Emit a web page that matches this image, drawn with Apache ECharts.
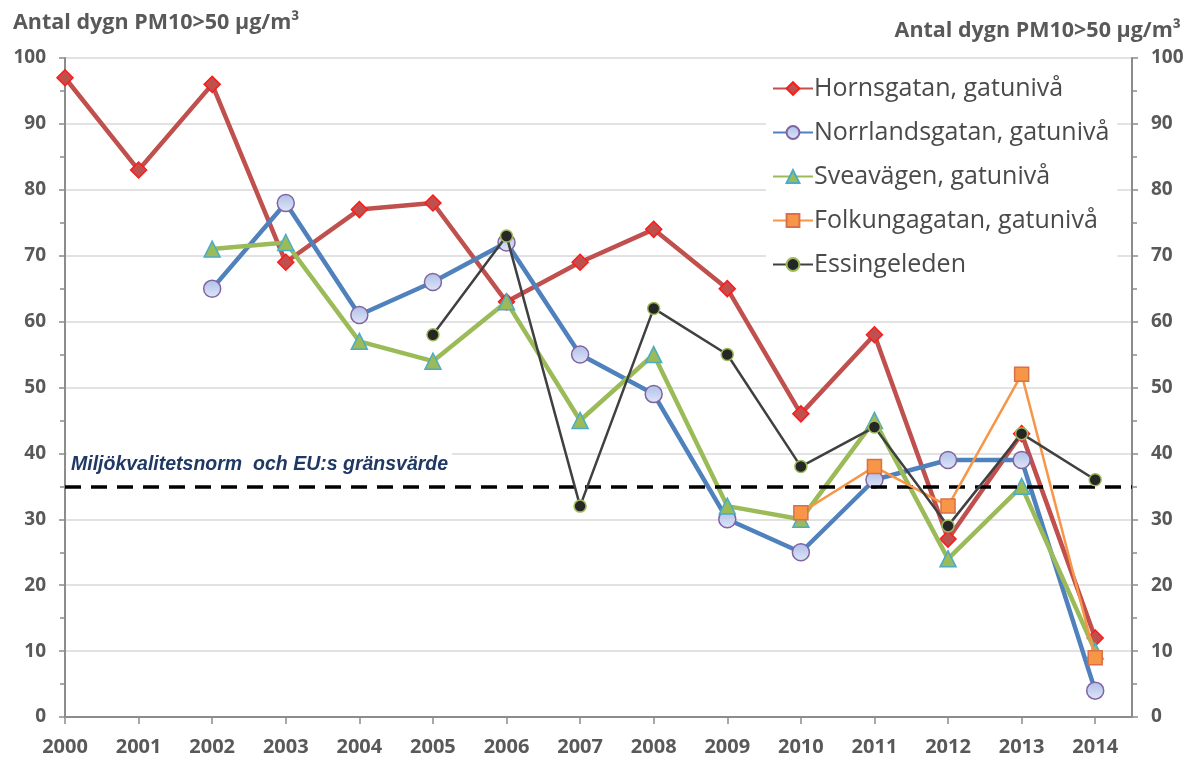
<!DOCTYPE html>
<html>
<head>
<meta charset="utf-8">
<title>Antal dygn PM10</title>
<script src="https://cdn.jsdelivr.net/npm/echarts@6/dist/echarts.min.js"></script>
<style>
  html, body { margin: 0; padding: 0; background: #fff; }
  #chart { width: 1198px; height: 765px; }
</style>
</head>
<body>
<div id="chart"></div>
<script>
var years = [2000, 2001, 2002, 2003, 2004, 2005, 2006, 2007, 2008, 2009, 2010, 2011, 2012, 2013, 2014];
var hornsgatan     = [97, 83, 96, 69, 77, 78, 63, 69, 74, 65, 46, 58, 27, 43, 12];
var norrlandsgatan = [null, null, 65, 78, 61, 66, 72, 55, 49, 30, 25, 36, 39, 39, 4];
var sveavagen      = [null, null, 71, 72, 57, 54, 63, 45, 55, 32, 30, 45, 24, 35, 10];
var folkungagatan  = [null, null, null, null, null, null, null, null, null, null, 31, 38, 32, 52, 9];
var essingeleden   = [null, null, null, null, null, 58, 73, 32, 62, 55, 38, 44, 29, 43, 36];
var limitValue = 35;
var limitLabel = 'Miljökvalitetsnorm  och EU:s gränsvärde';
var axisName = 'Antal dygn PM10>50 µg/m³';

function pairs(vals) {
  var out = [];
  for (var i = 0; i < years.length; i++) {
    if (vals[i] !== null) out.push([years[i], vals[i]]);
  }
  return out;
}

var chart = echarts.init(document.getElementById('chart'));
var gray = '#595959';
var font = '"Open Sans", "DejaVu Sans", sans-serif';

var yAxisBase = {
  type: 'value',
  min: 0,
  max: 100,
  interval: 10,
  axisLine: { show: true, lineStyle: { color: '#8c8c8c', width: 2 } },
  axisTick: { show: true, length: 6, lineStyle: { color: '#8c8c8c', width: 1.5 } },
  minorTick: { show: true, splitNumber: 2, length: 5, lineStyle: { color: '#8c8c8c', width: 1.5 } },
  axisLabel: { color: gray, fontSize: 19, fontWeight: 'bold', fontFamily: font, margin: 19 }
};

var option = {
  backgroundColor: '#fff',
  animation: false,
  title: [
    { text: axisName, left: 8, top: 7,
      textStyle: { color: gray, fontSize: 21.5, fontWeight: 'bold', fontFamily: font } },
    { text: axisName, right: 12, top: 15,
      textStyle: { color: gray, fontSize: 21.5, fontWeight: 'bold', fontFamily: font } }
  ],
  grid: { left: 65, right: 66, top: 58, bottom: 48, containLabel: false },
  legend: {
    orient: 'vertical',
    left: 766,
    top: 70,
    itemWidth: 40,
    itemHeight: 16,
    itemGap: 19,
    backgroundColor: '#fff',
    padding: [6, 8, 8, 6],
    textStyle: { color: '#4a4a4a', fontSize: 25, fontFamily: font, padding: [0, 0, 0, -4] }
  },
  xAxis: {
    type: 'value',
    min: 2000,
    max: 2014.5,
    interval: 1,
    splitLine: { show: false },
    axisLine: { show: true, lineStyle: { color: '#8c8c8c', width: 2 } },
    axisTick: { show: true, length: 7, customValues: years, lineStyle: { color: '#8c8c8c', width: 1.5 } },
    axisLabel: {
      customValues: years,
      color: gray, fontSize: 20, fontWeight: 'bold', fontFamily: font, margin: 20,
      formatter: function (v) { return String(v); }
    }
  },
  yAxis: [
    Object.assign({}, yAxisBase, {
      position: 'left',
      splitLine: { show: true, lineStyle: { color: '#d9d9d9', width: 1.5 } }
    }),
    Object.assign({}, yAxisBase, {
      position: 'right',
      splitLine: { show: false }
    })
  ],
  series: [
    {
      name: 'Hornsgatan, gatunivå',
      type: 'line',
      data: pairs(hornsgatan),
      symbol: 'diamond',
      symbolSize: 16,
      lineStyle: { color: '#c0504d', width: 4.5 },
      itemStyle: { color: '#c0504d', borderColor: '#ff1a1a', borderWidth: 1.5 },
      z: 2,
      markLine: {
        silent: true,
        symbol: 'none',
        lineStyle: { color: '#000', type: [16, 10], width: 3.5 },
        label: {
          show: true,
          position: 'insideStartTop',
          distance: [2, 9],
          formatter: limitLabel,
          color: '#1f3864',
          fontStyle: 'italic',
          fontWeight: 'bold',
          fontSize: 19.5,
          fontFamily: '"Liberation Sans", Arial, sans-serif',
          backgroundColor: '#fff',
          padding: [3, 4]
        },
        data: [{ yAxis: limitValue }]
      }
    },
    {
      name: 'Norrlandsgatan, gatunivå',
      type: 'line',
      data: pairs(norrlandsgatan),
      symbol: 'circle',
      symbolSize: 17,
      lineStyle: { color: '#4f81bd', width: 4.5 },
      itemStyle: {
        color: new echarts.graphic.LinearGradient(0, 0, 0, 1, [
          { offset: 0, color: '#aebfe8' },
          { offset: 1, color: '#dfe6f7' }
        ]),
        borderColor: '#8064a2', borderWidth: 1.5
      },
      z: 3
    },
    {
      name: 'Sveavägen, gatunivå',
      type: 'line',
      data: pairs(sveavagen),
      symbol: 'triangle',
      symbolSize: 16,
      lineStyle: { color: '#9bbb59', width: 4.5 },
      itemStyle: { color: '#9bbb59', borderColor: '#4bacc6', borderWidth: 1.5 },
      z: 4
    },
    {
      name: 'Folkungagatan, gatunivå',
      type: 'line',
      data: pairs(folkungagatan),
      symbol: 'rect',
      symbolSize: 14,
      lineStyle: { color: '#f79646', width: 2.5 },
      itemStyle: { color: '#f79646', borderColor: '#d9704a', borderWidth: 1.5 },
      z: 5
    },
    {
      name: 'Essingeleden',
      type: 'line',
      data: pairs(essingeleden),
      symbol: 'circle',
      symbolSize: 12,
      lineStyle: { color: '#404040', width: 2.5 },
      itemStyle: { color: '#262626', borderColor: '#9bbb59', borderWidth: 1.5 },
      z: 6
    }
  ]
};

chart.setOption(option);
</script>
</body>
</html>
